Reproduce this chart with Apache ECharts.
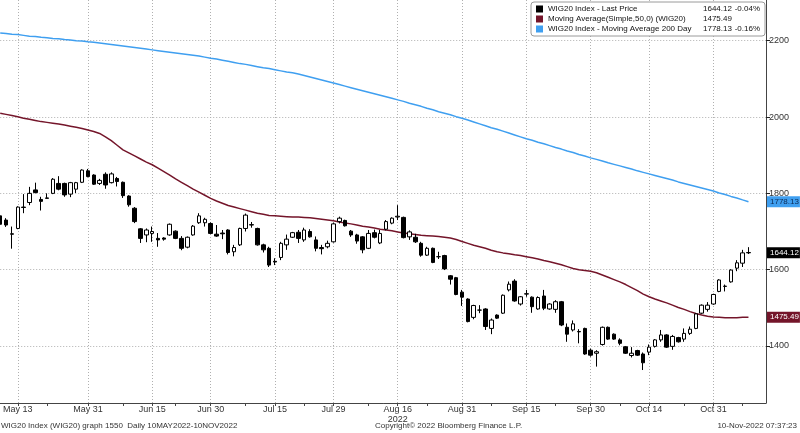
<!DOCTYPE html>
<html><head><meta charset="utf-8">
<script src="https://cdn.jsdelivr.net/npm/echarts/dist/echarts.min.js"></script>
<style>html,body{margin:0;padding:0;background:#fff}#c{width:800px;height:433px}</style>
</head><body><div id="c"></div><script>
const FONT = '"Liberation Sans", Arial, sans-serif';
const dates = ['May 10','May 11','May 12','May 13','May 16','May 17','May 18','May 19','May 20','May 23','May 24','May 25','May 26','May 27','May 30','May 31',
'Jun 1','Jun 2','Jun 3','Jun 6','Jun 7','Jun 8','Jun 9','Jun 10','Jun 13','Jun 14','Jun 15','Jun 17','Jun 20','Jun 21','Jun 22','Jun 23','Jun 24','Jun 27','Jun 28','Jun 29','Jun 30',
'Jul 1','Jul 4','Jul 5','Jul 6','Jul 7','Jul 8','Jul 11','Jul 12','Jul 13','Jul 14','Jul 15','Jul 18','Jul 19','Jul 20','Jul 21','Jul 22','Jul 25','Jul 26','Jul 27','Jul 28','Jul 29',
'Aug 1','Aug 2','Aug 3','Aug 4','Aug 5','Aug 8','Aug 9','Aug 10','Aug 11','Aug 12','Aug 16','Aug 17','Aug 18','Aug 19','Aug 22','Aug 23','Aug 24','Aug 25','Aug 26','Aug 29','Aug 30','Aug 31',
'Sep 1','Sep 2','Sep 5','Sep 6','Sep 7','Sep 8','Sep 9','Sep 12','Sep 13','Sep 14','Sep 15','Sep 16','Sep 19','Sep 20','Sep 21','Sep 22','Sep 23','Sep 26','Sep 27','Sep 28','Sep 29','Sep 30',
'Oct 3','Oct 4','Oct 5','Oct 6','Oct 7','Oct 10','Oct 11','Oct 12','Oct 13','Oct 14','Oct 17','Oct 18','Oct 19','Oct 20','Oct 21','Oct 24','Oct 25','Oct 26','Oct 27','Oct 28','Oct 31',
'Nov 2','Nov 3','Nov 4','Nov 7','Nov 8','Nov 9','Nov 10','Nov 14','Nov 15'];

const opens = [1741,1730,1694,1708,1764,1776,1809,1784,1788,1800,1826,1826,1798,1811,1829,1859,1848,1826,1850,1828,1839,1829,1793,1761,1707,1691,1695,1682,1683,1691,1701,1682,1659,1691,1723,1723,1721,1693,1696,1704,1647,1665,1708,1718,1708,1665,1656,1622,1632,1665,1685,1698,1678,1700,1678,1658,1660,1673,1726,1729,1701,1691,1686,1656,1697,1670,1706,1722,1738,1737,1686,1685,1669,1638,1656,1634,1637,1584,1579,1541,1523,1475,1494,1497,1446,1481,1486,1547,1570,1510,1536,1528,1497,1531,1497,1496,1516,1449,1442,1438,1446,1389,1381,1404,1449,1431,1416,1398,1375,1388,1379,1384,1399,1416,1429,1399,1422,1418,1433,1446,1486,1496,1510,1543,1556,1568,1604,1617,1645];
const closes = [1719,1717,1693,1764,1763,1800,1802,1779,1787,1837,1811,1796,1828,1828,1861,1844,1824,1834,1822,1851,1831,1794,1770,1726,1682,1704,1700,1678,1680,1719,1682,1656,1685,1714,1741,1732,1695,1688,1694,1645,1658,1708,1743,1717,1665,1652,1612,1620,1669,1680,1697,1682,1704,1686,1656,1655,1669,1720,1735,1715,1691,1675,1652,1695,1685,1695,1726,1735,1740,1684,1699,1673,1638,1656,1619,1634,1602,1575,1535,1528,1464,1506,1494,1451,1468,1473,1533,1562,1518,1529,1537,1503,1527,1499,1510,1516,1455,1431,1458,1437,1379,1376,1385,1449,1418,1418,1407,1381,1381,1376,1356,1397,1416,1429,1397,1425,1411,1433,1444,1484,1507,1507,1535,1573,1557,1599,1618,1644,1644.12];
const lows = [1712,1712,1655,1706,1748,1769,1800,1755,1786,1798,1808,1791,1790,1801,1827,1842,1822,1822,1812,1826,1818,1788,1765,1722,1670,1672,1673,1660,1676,1689,1680,1651,1656,1689,1720,1713,1693,1686,1680,1640,1635,1662,1700,1710,1663,1645,1607,1612,1625,1652,1683,1670,1673,1684,1648,1640,1656,1671,1721,1713,1686,1668,1643,1654,1682,1667,1703,1719,1730,1682,1678,1670,1634,1636,1617,1628,1599,1561,1533,1505,1462,1470,1486,1442,1431,1471,1484,1543,1516,1506,1529,1487,1495,1494,1495,1487,1452,1411,1438,1407,1377,1372,1346,1401,1416,1416,1402,1379,1370,1374,1337,1376,1396,1411,1395,1390,1409,1411,1429,1444,1484,1490,1508,1541,1543,1566,1596,1607,1641];
const highs = [1750,1735,1713,1766,1798,1817,1828,1791,1800,1840,1845,1828,1830,1830,1863,1864,1850,1838,1855,1855,1843,1831,1795,1764,1709,1708,1713,1696,1685,1721,1703,1688,1687,1717,1748,1736,1724,1717,1704,1706,1665,1710,1747,1725,1710,1668,1660,1630,1673,1692,1699,1704,1710,1706,1687,1665,1676,1723,1739,1731,1704,1694,1688,1704,1705,1704,1730,1737,1769,1739,1703,1694,1673,1660,1658,1647,1639,1586,1581,1547,1525,1508,1507,1499,1472,1483,1535,1569,1575,1531,1547,1530,1530,1547,1512,1520,1518,1459,1467,1444,1448,1393,1389,1451,1451,1433,1420,1400,1397,1390,1383,1404,1418,1442,1431,1429,1424,1446,1451,1486,1509,1515,1537,1575,1561,1601,1625,1652,1659];

const ma50 = [2010,2007,2004,2001,1997,1994,1991,1988,1986,1984,1982,1979,1976,1973,1970,1966,1962,1957,1948,1938,1926,1914,1906,1898,1890,1882,1875,1866,1857,1848,1838,1829,1820,1811,1803,1795,1787,1780,1774,1768,1764,1760,1756,1752,1748,1745,1742,1741,1740,1739,1738,1738,1737,1736,1734,1732,1730,1728,1725,1722,1720,1717,1714,1712,1709,1706,1704,1702,1699,1696,1694,1692,1690,1689,1688,1687,1685,1683,1679,1674,1669,1664,1660,1656,1651,1647,1644,1642,1639,1637,1634,1631,1628,1624,1621,1617,1613,1608,1603,1600,1598,1596,1592,1586,1580,1574,1568,1561,1553,1545,1536,1529,1523,1518,1513,1507,1501,1496,1490,1485,1481,1478,1476,1475,1474,1474,1474,1475,1475.49];
const ma200 = [2220,2219,2217,2216,2214,2212,2211,2209,2208,2206,2205,2203,2202,2200,2199,2197,2196,2194,2192,2190,2188,2186,2184,2182,2180,2178,2176,2174,2172,2170,2168,2166,2164,2162,2160,2157,2154,2152,2149,2146,2143,2140,2138,2135,2132,2129,2127,2124,2121,2118,2116,2113,2109,2105,2101,2097,2093,2089,2085,2081,2077,2073,2069,2065,2061,2057,2053,2049,2045,2041,2036,2032,2028,2023,2019,2014,2010,2006,2001,1997,1992,1987,1982,1977,1972,1968,1963,1958,1953,1948,1943,1939,1934,1930,1925,1920,1916,1911,1907,1902,1898,1893,1889,1885,1880,1876,1872,1868,1864,1859,1855,1851,1847,1843,1839,1835,1830,1826,1822,1818,1814,1810,1806,1801,1797,1792,1788,1783,1778.13];

const labelDates = ['May 13','May 31','Jun 15','Jun 30','Jul 15','Jul 29','Aug 16','Aug 31','Sep 15','Sep 30','Oct 14','Oct 31'];
const minorTickDates = ['May 20','Jun 8','Jun 22','Jul 8','Jul 22','Aug 8','Aug 23','Sep 7','Sep 22','Oct 7','Oct 24','Nov 8'];
const seriesNames = ['WIG20 Index - Last Price','Moving Average(Simple,50,0) (WIG20)','WIG20 Index - Moving Average 200 Day'];
const legendValues = ['1644.12','1475.49','1778.13'];
const legendChanges = ['-0.04%','','-0.16%'];
const colors = ['#000000','#74152a','#3f9ff0'];

const labelSet = new Set(labelDates);
const tickSet = new Set(labelDates.concat(minorTickDates));
const candles = opens.map((o,i)=>[o, closes[i], lows[i], highs[i]]);

function tag(value, text, bg, fg){
  return {silent:true, symbol:['none','none'], animation:false,
    lineStyle:{color:'rgba(0,0,0,0)', width:0, type:'solid'},
    label:{show:true, position:'end', distance:1, formatter:text, backgroundColor:bg, color:fg,
      padding:[2,1,1,3], fontSize:8, fontFamily:FONT},
    emphasis:{disabled:true},
    data:[{yAxis:value}]};
}

const chart = echarts.init(document.getElementById('c'), null, {renderer:'canvas'});
chart.setOption({
  animation:false,
  backgroundColor:'#fff',
  grid:{left:-0.3, right:34, top:0, bottom:30, containLabel:false},
  legend:{
    right:35, top:2, orient:'vertical', selectedMode:false,
    icon:'rect', itemWidth:7, itemHeight:7, itemGap:2,
    padding:[3,5,3,5], backgroundColor:'#fff', borderColor:'#9a9a9a', borderWidth:1, borderRadius:3,
    textStyle:{fontSize:8, color:'#111', fontFamily:FONT,
      rich:{n:{width:155, fontSize:8, fontFamily:FONT}, v:{width:33, fontSize:8, fontFamily:FONT}, p:{width:24, fontSize:8, fontFamily:FONT, align:'right'}}},
    formatter:(name)=>{const k=seriesNames.indexOf(name); return '{n|'+name+'}{v|'+legendValues[k]+'}{p|'+legendChanges[k]+'}';},
    data:seriesNames.map((n,k)=>({name:n, itemStyle:{color:colors[k], borderColor:colors[k], borderWidth:0}}))
  },
  xAxis:{
    type:'category', data:dates, boundaryGap:false,
    axisLine:{show:true, lineStyle:{color:'#444', width:1}},
    axisTick:{show:true, interval:(i,v)=>tickSet.has(v), length:3, lineStyle:{color:'#444'}},
    axisLabel:{interval:(i,v)=>labelSet.has(v), formatter:(v)=> v==='Aug 16' ? 'Aug 16\n2022' : v,
      fontSize:9, color:'#333', margin:2, lineHeight:10, fontFamily:FONT},
    splitLine:{show:true, interval:(i,v)=>labelSet.has(v), lineStyle:{color:'#b0b0b0', type:[1,2], width:1}}
  },
  yAxis:{
    type:'value', position:'right', min:1250.6, max:2306.7, splitNumber:5,
    axisLine:{show:true, lineStyle:{color:'#444', width:1}},
    axisTick:{show:true, length:4, lineStyle:{color:'#222'}},
    axisLabel:{fontSize:9, color:'#333', margin:3, showMinLabel:false, showMaxLabel:false, fontFamily:FONT,
      formatter:(v)=>String(Math.round(v))},
    splitLine:{show:true, showMinLine:false, showMaxLine:false, lineStyle:{color:'#b0b0b0', type:[1,2], width:1}}
  },
  series:[
    {name:seriesNames[0], type:'candlestick', data:candles, barWidth:4, clip:false,
      itemStyle:{color:'#ffffff', color0:'#000000', borderColor:'#000000', borderColor0:'#000000', borderColorDoji:'#000000', borderWidth:1},
      markLine:tag(1644.12,'1644.12','#000000','#ffffff'), z:3},
    {name:seriesNames[1], type:'line', data:ma50, showSymbol:false, symbol:'none', clip:false,
      lineStyle:{color:colors[1], width:1.5}, itemStyle:{color:colors[1]},
      markLine:tag(1475.49,'1475.49','#74152a','#ffffff'), z:2},
    {name:seriesNames[2], type:'line', data:ma200, showSymbol:false, symbol:'none', clip:false,
      lineStyle:{color:colors[2], width:1.5}, itemStyle:{color:colors[2]},
      markLine:tag(1778.13,'1778.13','#3f9ff0','#0b2a55'), z:2}
  ],
  graphic:[
    {type:'text', left:1, top:422, style:{text:'WIG20 Index (WIG20) graph 1550  Daily 10MAY2022-10NOV2022', fontSize:8, fill:'#333', fontFamily:FONT}},
    {type:'text', left:375, top:422, style:{text:'Copyright\u00A9 2022 Bloomberg Finance L.P.', fontSize:8, fill:'#333', fontFamily:FONT}},
    {type:'text', right:3, top:422, style:{text:'10-Nov-2022 07:37:23', fontSize:8, fill:'#333', fontFamily:FONT}}
  ]
});
</script></body></html>
